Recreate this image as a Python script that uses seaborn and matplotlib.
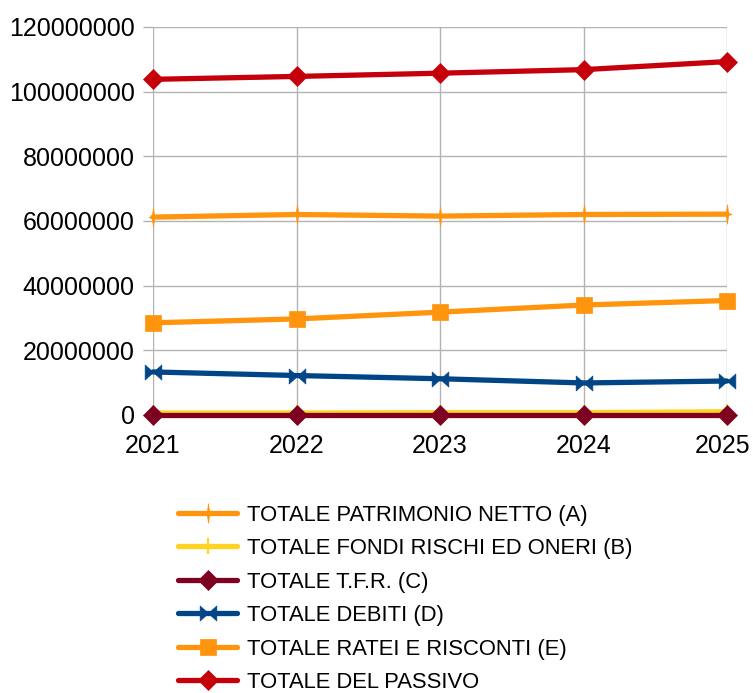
import numpy as np
import pandas as pd
import matplotlib
matplotlib.use("Agg")
import matplotlib.pyplot as plt
from matplotlib.path import Path
from matplotlib.transforms import ScaledTranslation
import seaborn as sns

years = [2021, 2022, 2023, 2024, 2025]
patrimonio_netto = [61200000, 62000000, 61500000, 62000000, 62100000]
fondi_rischi = [600000, 600000, 700000, 700000, 1000000]
tfr = [100000, 100000, 100000, 100000, 100000]
debiti = [13300000, 12200000, 11200000, 9900000, 10500000]
ratei_risconti = [28500000, 29700000, 31800000, 34000000, 35400000]
totale_passivo = [103800000, 104700000, 105700000, 106800000, 109300000]

labels = [
    "TOTALE PATRIMONIO NETTO (A)",
    "TOTALE FONDI RISCHI ED ONERI (B)",
    "TOTALE T.F.R. (C)",
    "TOTALE DEBITI (D)",
    "TOTALE RATEI E RISCONTI (E)",
    "TOTALE DEL PASSIVO",
]
y_ticks = [0, 20000000, 40000000, 60000000, 80000000, 100000000, 120000000]

# slim four-pointed star, tall and narrow
star_path = Path(
    [(0, 1), (0.12, 0.12), (0.45, 0), (0.12, -0.12), (0, -1),
     (-0.12, -0.12), (-0.45, 0), (-0.12, 0.12), (0, 1)],
    [Path.MOVETO] + [Path.LINETO] * 7 + [Path.CLOSEPOLY],
)
# bow-tie: two triangles meeting at the centre
bowtie_path = Path(
    [(-1, 0.9), (0, 0), (-1, -0.9), (-1, 0.9), (1, 0.9), (0, 0), (1, -0.9), (1, 0.9)],
    [Path.MOVETO, Path.LINETO, Path.LINETO, Path.CLOSEPOLY,
     Path.MOVETO, Path.LINETO, Path.LINETO, Path.CLOSEPOLY],
)
plus_path = Path(
    [(0, 1), (0, -1), (-0.6, 0), (0.6, 0)],
    [Path.MOVETO, Path.LINETO, Path.MOVETO, Path.LINETO],
)

series = [patrimonio_netto, fondi_rischi, tfr, debiti, ratei_risconti, totale_passivo]
colors = ["#FF950E", "#FFD320", "#7E0021", "#004586", "#FF950E", "#C5000B"]
markers = [star_path, plus_path, "D", bowtie_path, "s", "D"]
msizes = [14, 12, 10.5, 12, 12, 10.5]

sns.set_theme(style="white")
plt.rcParams["font.family"] = ["Liberation Sans", "DejaVu Sans"]
plt.rcParams["text.color"] = "black"

fig = plt.figure(figsize=(7.53, 6.93), dpi=100)
ax = fig.add_axes([0.2032, 0.4012, 0.7623, 0.5599])

for vals, lab, col, mk, ms in zip(series, labels, colors, markers, msizes):
    df = pd.DataFrame({"year": years, "value": vals})
    sns.lineplot(data=df, x="year", y="value", ax=ax, color=col, linewidth=3.8,
                 marker=mk, markersize=ms, markeredgecolor=col,
                 markeredgewidth=1.5 if mk is plus_path else 0.5,
                 label=lab, clip_on=False, zorder=3)

ax.set_xlim(years[0], years[-1])
ax.set_ylim(0, 120000000)
ax.set_xticks(years)
ax.set_yticks(y_ticks)
ax.set_yticklabels([str(v) for v in y_ticks])
ax.set_xlabel("")
ax.set_ylabel("")
ax.tick_params(axis="both", labelsize=18, labelcolor="black")
ax.tick_params(axis="x", length=0, pad=14)
ax.tick_params(axis="y", length=7.2, width=1, color="#b3b3b3", pad=6, left=True)
ax.grid(True, color="#b3b3b3", linewidth=1)
for s in ax.spines.values():
    s.set_visible(False)

# keep the last year label inside the figure
last = ax.get_xticklabels()[-1]
last.set_transform(last.get_transform() + ScaledTranslation(-4 / 100, 0, fig.dpi_scale_trans))

handles, labs = ax.get_legend_handles_labels()
ax.legend_.remove()
leg = fig.legend(handles, labs, loc="upper left", bbox_to_anchor=(0.2364, 0.272),
                 frameon=False, fontsize=15.8, handlelength=2.7, handletextpad=0.45,
                 labelspacing=0.57, borderaxespad=0, borderpad=0)
for t in leg.get_texts():
    t.set_color("black")

fig.savefig("out.png", dpi=100)
